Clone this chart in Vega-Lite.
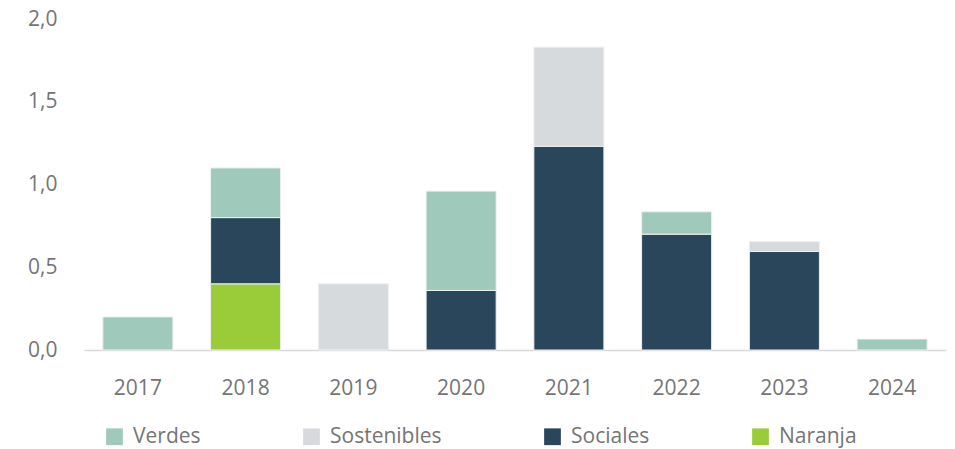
{
  "$schema": "https://vega.github.io/schema/vega-lite/v6.json",
  "width": 862,
  "height": 331,
  "autosize": {"type": "none"},
  "padding": {"left": 84, "top": 19, "right": 9, "bottom": 99},
  "background": "#ffffff",
  "data": {
    "values": [
      {"year": "2017", "tipo": "Verdes", "valor": 0.2, "ord": 4},
      {"year": "2018", "tipo": "Naranja", "valor": 0.4, "ord": 1},
      {"year": "2018", "tipo": "Sociales", "valor": 0.4, "ord": 2},
      {"year": "2018", "tipo": "Verdes", "valor": 0.3, "ord": 4},
      {"year": "2019", "tipo": "Sostenibles", "valor": 0.4, "ord": 3},
      {"year": "2020", "tipo": "Sociales", "valor": 0.36, "ord": 2},
      {"year": "2020", "tipo": "Verdes", "valor": 0.6, "ord": 4},
      {"year": "2021", "tipo": "Sociales", "valor": 1.23, "ord": 2},
      {"year": "2021", "tipo": "Sostenibles", "valor": 0.6, "ord": 3},
      {"year": "2022", "tipo": "Sociales", "valor": 0.7, "ord": 2},
      {"year": "2022", "tipo": "Verdes", "valor": 0.135, "ord": 4},
      {"year": "2023", "tipo": "Sociales", "valor": 0.595, "ord": 2},
      {"year": "2023", "tipo": "Sostenibles", "valor": 0.06, "ord": 3},
      {"year": "2024", "tipo": "Verdes", "valor": 0.066, "ord": 4}
    ]
  },
  "mark": {"type": "bar", "stroke": "#eef0f0", "strokeWidth": 1},
  "encoding": {
    "x": {
      "field": "year",
      "type": "nominal",
      "title": null,
      "scale": {"paddingInner": 0.35, "paddingOuter": 0.175},
      "axis": {
        "labelAngle": 0,
        "ticks": false,
        "domainColor": "#d9d9d9",
        "domainWidth": 1.5,
        "labelFont": "Open Sans",
        "labelFontSize": 21,
        "labelColor": "#757575",
        "labelPadding": 27
      }
    },
    "y": {
      "field": "valor",
      "type": "quantitative",
      "stack": "zero",
      "title": null,
      "scale": {"domain": [0, 2], "nice": false},
      "axis": {
        "values": [0, 0.5, 1, 1.5, 2],
        "labelExpr": "replace(format(datum.value, '.1f'), '.', ',')",
        "grid": false,
        "domain": false,
        "ticks": false,
        "labelFont": "Open Sans",
        "labelFontSize": 21,
        "labelColor": "#757575",
        "labelPadding": 27
      }
    },
    "color": {
      "field": "tipo",
      "type": "nominal",
      "scale": {
        "domain": ["Verdes", "Sostenibles", "Sociales", "Naranja"],
        "range": ["#9fc9bb", "#d7dadd", "#29465b", "#9acb38"]
      },
      "legend": {
        "title": null,
        "orient": "none",
        "direction": "horizontal",
        "legendX": 20,
        "legendY": 407,
        "symbolType": "square",
        "symbolSize": 280,
        "symbolStrokeWidth": 0,
        "symbolOpacity": 1,
        "labelFont": "Open Sans",
        "labelFontSize": 21,
        "labelColor": "#757575",
        "labelOffset": 8,
        "columnPadding": 100
      }
    },
    "order": {"field": "ord", "type": "quantitative"}
  },
  "config": {"view": {"stroke": null}}
}
